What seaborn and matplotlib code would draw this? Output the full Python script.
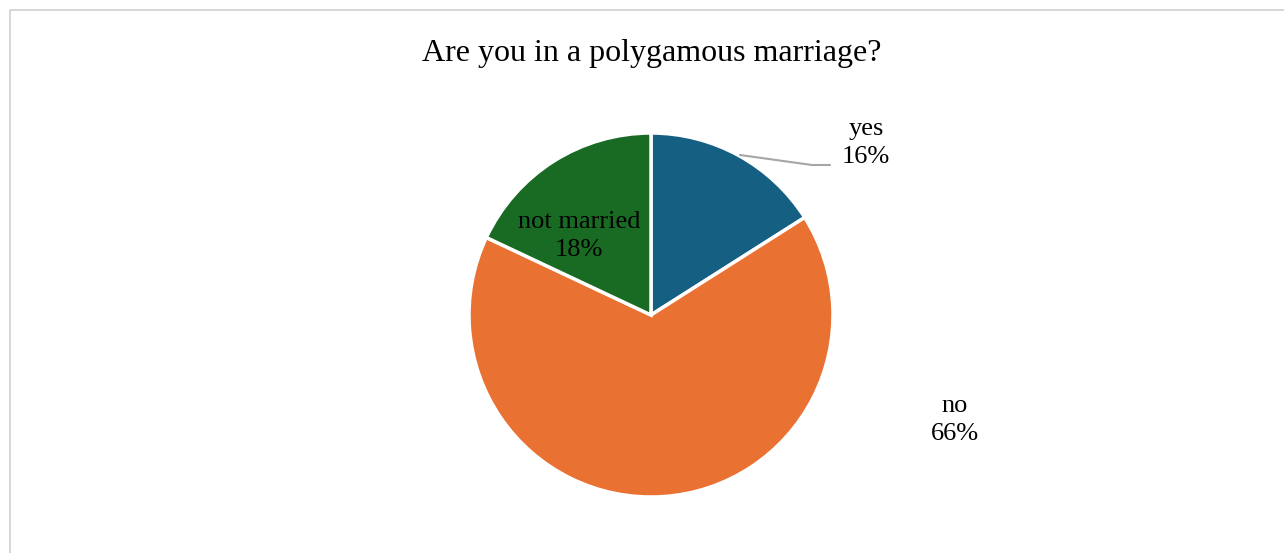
import matplotlib
matplotlib.use("Agg")
import matplotlib.pyplot as plt
import seaborn as sns
from matplotlib.patches import Rectangle
import numpy as np

categories = ["yes", "no", "not married"]
values = [16, 66, 18]
colors = ["#156082", "#E97132", "#196B24"]

sns.set_style("white")
plt.rcParams['font.family'] = ['Liberation Serif', 'DejaVu Serif']
plt.rcParams['text.color'] = 'black'

W, H = 1284, 553
fig = plt.figure(figsize=(W / 100, H / 100), dpi=100)
fig.patch.set_facecolor("white")

# chart border
fig.patches.append(Rectangle((10 / W, -0.01), 1.5, (H - 10) / H + 0.01,
                             transform=fig.transFigure, fill=False,
                             edgecolor="#D0D0D0", linewidth=1.2))

ax = fig.add_axes([0, 0, 1, 1])
ax.set_xlim(0, W)
ax.set_ylim(0, H)
ax.set_aspect("equal")
ax.axis("off")

cx, cy, r = 651, H - 315, 182
wedges, _ = ax.pie(values, colors=colors, startangle=90, counterclock=False,
                   center=(cx, cy), radius=r, frame=True,
                   wedgeprops=dict(edgecolor="white", linewidth=2.5))
ax.set_xlim(0, W)
ax.set_ylim(0, H)
ax.axis("off")

ax.text(W / 2 + 10, H - 53, "Are you in a polygamous marriage?", fontsize=23,
        ha="center", va="center", color="black")

lab = [f"{c}\n{v}%" for c, v in zip(categories, values)]
kw = dict(fontsize=19, ha="center", va="center", linespacing=1.4, color="black")
ax.text(866, H - 143, lab[0], **kw)
ax.text(955, H - 420, lab[1], **kw)
ax.text(579, H - 236, lab[2], **kw)

# leader line for "yes"
ax.plot([740, 812, 830], [H - 155, H - 165, H - 165], color="#A6A6A6", lw=1.5)

fig.savefig("out.png", dpi=100, facecolor="white")
